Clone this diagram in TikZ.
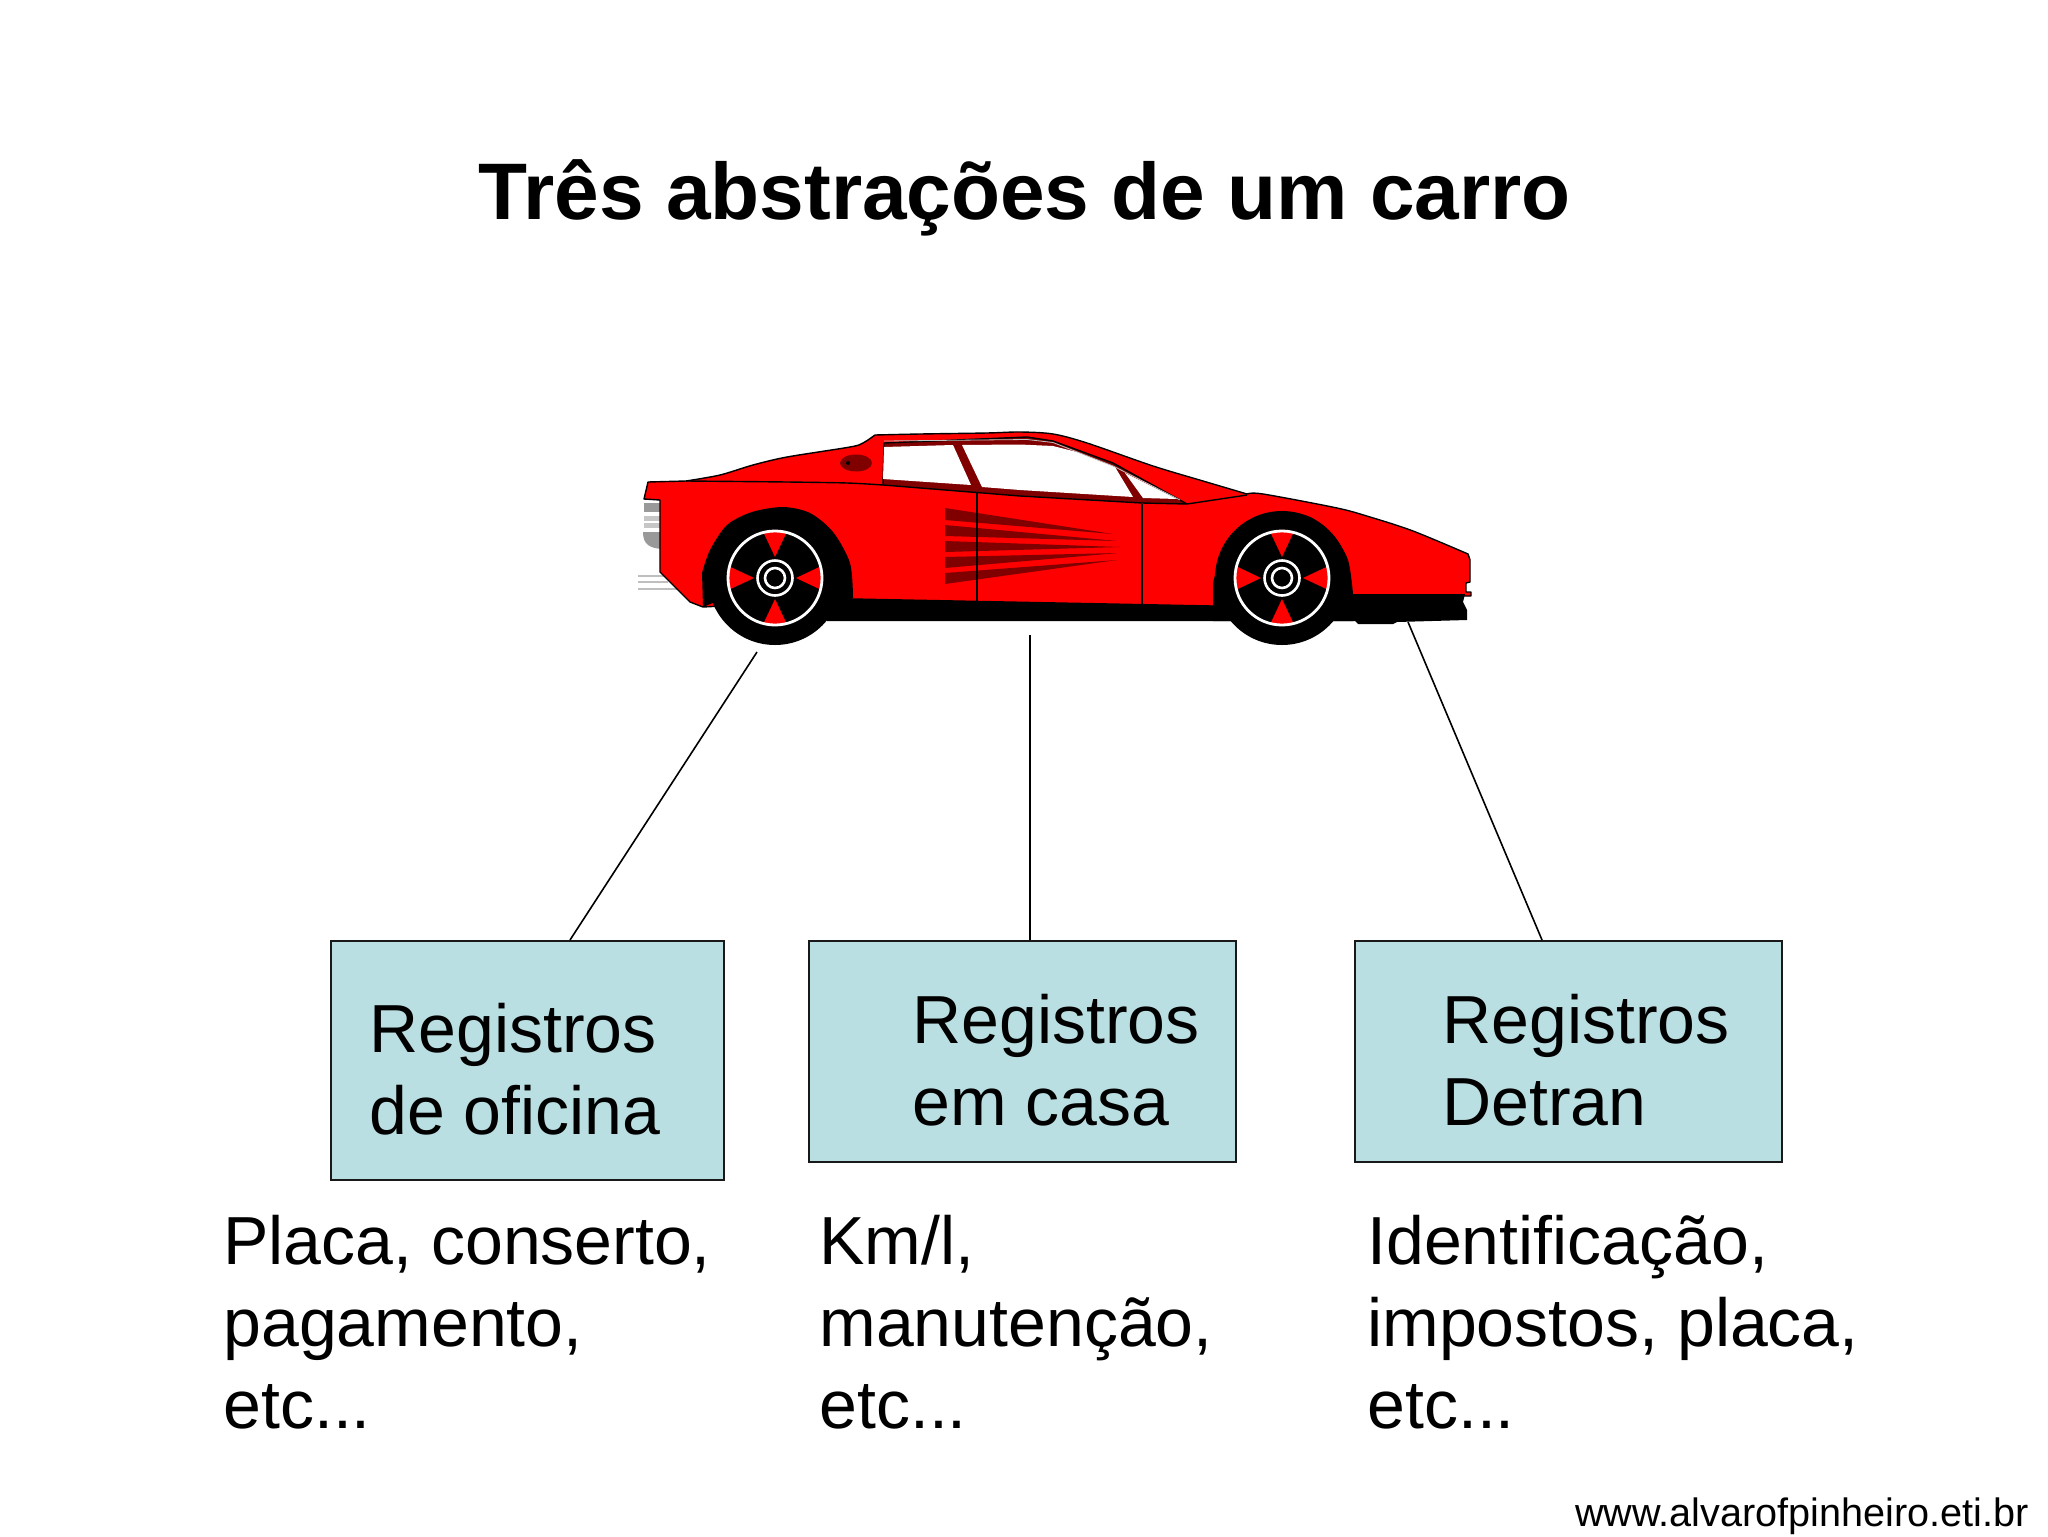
\documentclass[tikz,border=0pt]{standalone}
\usepackage{fontspec}
\setmainfont{Liberation Sans}
\usetikzlibrary{calc}
\definecolor{carred}{RGB}{255,0,0}
\definecolor{cardark}{RGB}{128,0,0}
\definecolor{boxblue}{RGB}{186,223,226}
\tikzset{
  regbox/.style = {draw = black!90, line width = 1.1pt, fill = boxblue, inner sep = 0pt, anchor = north west},
  regtext/.style = {anchor = north west, inner sep = 0pt, align = left, font = \fontsize{34}{41}\selectfont},
  link/.style = {draw = black, line width = 0.8pt},
  carline/.style = {draw = black, line width = 0.7pt},
}
\begin{document}
\begin{tikzpicture}[x = 0.5pt, y = -0.5pt]
  \useasboundingbox (0,0) rectangle (2048,1536);
  \node (title) at (1025,198) {\fontsize{40.1}{46}\selectfont\bfseries Três abstrações de um carro};

  % exhaust at the rear
  \fill[gray!80] (644,503) rectangle (662,512);
  \fill[gray!45] (644,516) rectangle (662,521);
  \fill[gray!45] (644,523) rectangle (662,528);
  \fill[gray!80] (643,532) .. controls (643,545) and (650,548) .. (662,549) -- (662,532) -- cycle;
  \foreach \ypos/\xend in {576/668, 582/668, 589/680} {
    \draw[gray!50, line width = 1.2pt] (638,\ypos) -- (\xend,\ypos);
  }

  % body
  \filldraw[fill = carred, carline, line join = round] (648,482) -- (686,481)
    -- plot[smooth, tension = 0.5] coordinates {(686,481) (720,475) (753,465) (787,457) (850,447) (863,443) (875,435)}
    -- plot[smooth, tension = 0.5] coordinates {(875,435) (920,434) (987,433) (1020,432) (1053,434) (1087,443) (1153,466) (1203,481) (1247,494)}
    -- plot[smooth, tension = 0.5] coordinates {(1247,494) (1263,494) (1337,508) (1370,517) (1413,531) (1468,554)}
    -- (1470,560) -- (1470,582) -- (1466,583) -- (1466,592) -- (1471,592) -- (1471,596)
    -- (1353,596) -- (1212,606) -- (853,599) -- (703,607) -- (690,602) -- (660,572) -- (660,500) -- (644,499) -- cycle;
  \draw[carline] plot[smooth, tension = 0.5] coordinates {(686,481) (787,482) (847,483) (883,485)};
  \draw[carline] (1187,504) -- (1247,495);

  % windows
  \filldraw[fill = cardark, carline, line join = round] (884,443) -- (1027,437) -- (1053,441) -- (1113,463) -- (1187,504)
    -- (1142,503) -- (1020,496) -- (883,485) -- cycle;
  \fill[white] (884,447) -- (953,445) -- (971,485) -- (883,479) -- cycle;
  \fill[white] (962,445) -- (1020,444.5) -- (1053,446) -- (1077,452) -- (1115,467) -- (1133,497) -- (1020,490) -- (982,487) -- cycle;
  \fill[white] (1125,473) -- (1177,499) -- (1143,498) -- cycle;
  \draw[gray!50, line width = 0.4pt] (884,441) -- (1027,439.5) -- (1053,442.5) -- (1113,466) -- (1180,500);

  % air vent
  \fill[cardark] (856,463) ellipse (16 and 8.5);
  \fill[black] (848,463) circle (2);

  % side intakes
  \foreach \ytop/\ybot/\xtip/\ytip in {508/520/1113/534, 525/536/1117/541, 541/552/1120/547, 557/568/1118/553, 573/584/1117/560} {
    \fill[cardark] (945,\ytop) -- (\xtip,\ytip) -- (945,\ybot) -- cycle;
  }

  % doors
  \draw[carline] (977,492) -- (977,602);
  \draw[carline] (1142,504) -- (1142,604);

  % sill and arches
  \fill[black] (827,621) -- (827,599) -- (853,599) -- (1212,606) -- (1353,594) -- (1465,594) -- (1463,602) -- (1467,610)
    -- (1467,620) -- (1397,622) -- (1393,624) -- (1358,624) -- (1355,621) -- cycle;
  \fill[black] (703,607) -- plot[smooth, tension = 0.5] coordinates {(702,573) (710,550) (727,525) (752,512) (783,507) (810,513) (833,532) (850,563) (853,598)} -- (775,640) -- (715,602) -- cycle;
  \fill[black] plot[smooth, tension = 0.5] coordinates {(1213,583) (1220,560) (1237,535) (1260,518) (1283,513) (1310,517) (1333,535) (1348,560) (1353,594)} -- (1353,621) -- (1213,621) -- cycle;

  % wheels
  \foreach \xpos in {775,1282} {
    \begin{scope}[shift = {(\xpos,578)}]
      \fill[black] (0,0) circle (67);
      \foreach \ang in {0,90,180,270} {
        \fill[carred] (\ang:21) -- (\ang-14:46) -- (\ang:47) -- (\ang+14:46) -- cycle;
      }
      \draw[white, line width = 1.4pt] (0,0) circle (47);
      \draw[white, line width = 1.3pt] (0,0) circle (17.5);
      \draw[white, line width = 1.3pt] (0,0) circle (10);
    \end{scope}
  }

  % boxes
  \node[regbox, minimum width = 196.5pt, minimum height = 119.5pt] (boxoficina) at (330,940) {};
  \node[regbox, minimum width = 213.5pt, minimum height = 110.5pt] (boxcasa) at (807.5,940) {};
  \node[regbox, minimum width = 213.5pt, minimum height = 110.5pt] (boxdetran) at (1353.5,940) {};

  \node[regtext] (taboficina) at (369,1003) {Registros\\de oficina};
  \node[regtext] (tabcasa) at (912,994) {Registros\\em casa};
  \node[regtext] (tabdetran) at (1442,994) {Registros\\Detran};

  \node[regtext] (dataoficina) at (223,1215) {Placa, conserto,\\pagamento,\\etc...};
  \node[regtext] (datacasa) at (819,1215) {Km/l,\\manutenção,\\etc...};
  \node[regtext] (datadetran) at (1367,1215) {Identificação,\\impostos, placa,\\etc...};

  % links from the car to the boxes
  \coordinate (cara) at (757,652);
  \coordinate (carb) at (1030,635);
  \coordinate (carc) at (1408,622);
  \draw[link] (cara) -- ($(boxoficina.north west) + (240,0)$);
  \draw[link] (carb) -- ($(boxcasa.north west) + (222.5,0)$);
  \draw[link] (carc) -- ($(boxdetran.north west) + (188.5,0)$);

  \node[anchor = base east, inner sep = 0pt, font = \fontsize{19.8}{23}\selectfont] (site) at (2029,1526) {www.alvarofpinheiro.eti.br};
\end{tikzpicture}
\end{document}
